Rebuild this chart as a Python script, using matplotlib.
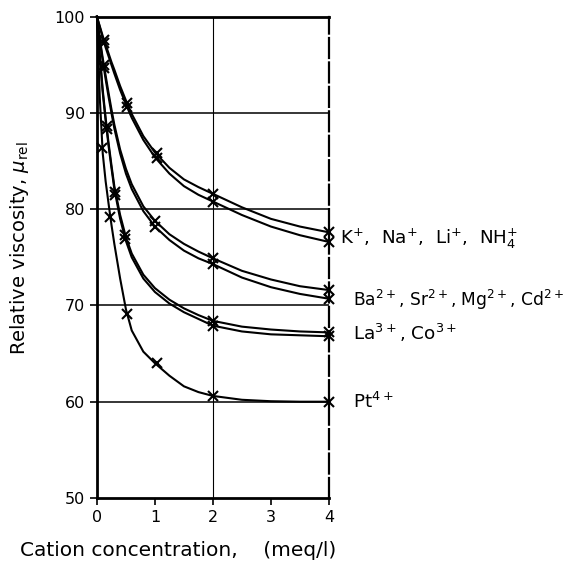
import matplotlib
matplotlib.use('Agg')
import matplotlib.pyplot as plt

# curve readings (x in meq/l, y = relative viscosity)
curve_x = [0, 0.05, 0.1, 0.15, 0.2, 0.25, 0.3, 0.4, 0.5, 0.6, 0.8, 1, 1.25, 1.5, 1.75, 2, 2.5, 3, 3.5, 4]
k_a = [100, 99.0, 98.0, 97.1, 96.2, 95.3, 94.5, 92.8, 91.3, 89.9, 87.6, 85.9, 84.3, 83.1, 82.3, 81.6, 80.2, 79.0, 78.2, 77.6]
k_b = [100, 98.9, 97.8, 96.8, 95.9, 95.0, 94.1, 92.4, 90.9, 89.5, 87.2, 85.4, 83.7, 82.4, 81.5, 80.8, 79.4, 78.2, 77.3, 76.6]
ba_a = [100, 97.7, 95.7, 93.9, 92.1, 90.4, 88.8, 86.2, 84.2, 82.6, 80.3, 78.8, 77.4, 76.4, 75.6, 74.9, 73.6, 72.7, 72.0, 71.6]
ba_b = [100, 97.5, 95.4, 93.5, 91.7, 90.0, 88.4, 85.8, 83.7, 82.1, 79.8, 78.2, 76.8, 75.7, 74.9, 74.3, 72.9, 71.9, 71.2, 70.7]
la_a = [100, 96.0, 92.4, 89.5, 86.9, 84.6, 82.4, 79.4, 77.1, 75.4, 73.2, 71.8, 70.6, 69.7, 69.0, 68.4, 67.8, 67.5, 67.3, 67.2]
la_b = [100, 95.8, 92.1, 89.2, 86.6, 84.3, 82.1, 79.0, 76.7, 75.0, 72.8, 71.4, 70.2, 69.3, 68.6, 67.9, 67.3, 67.0, 66.9, 66.8]
pt = [100, 91.5, 85.8, 82.9, 80.6, 78.4, 76.4, 72.8, 69.6, 67.4, 65.2, 64.0, 62.7, 61.6, 61.0, 60.6, 60.2, 60.05, 60.0, 60.0]

# measured points (crosses)
k_px = [0.12, 0.52, 1.03, 2, 4]
k_a_py = [97.6, 91.0, 85.8, 81.6, 77.6]
k_b_py = [97.3, 90.6, 85.3, 80.8, 76.6]
ba_px = [0.12, 1.0, 2, 4]
ba_a_py = [95.0, 78.8, 74.9, 71.6]
ba_b_py = [94.7, 78.2, 74.3, 70.7]
la_px = [0.17, 0.32, 0.49, 2, 4]
la_a_py = [88.6, 81.8, 77.3, 68.4, 67.2]
la_b_py = [88.3, 81.5, 76.9, 67.9, 66.8]
pt_px = [0.09, 0.23, 0.52, 1.03, 2, 4]
pt_py = [86.4, 79.2, 69.1, 64.0, 60.6, 60.0]

labels = [r'K$^{+}$,  Na$^{+}$,  Li$^{+}$,  NH$_4^{+}$',
          r'Ba$^{2+}$, Sr$^{2+}$, Mg$^{2+}$, Cd$^{2+}$',
          r'La$^{3+}$, Co$^{3+}$',
          r'Pt$^{4+}$']
label_x = [4.2, 4.42, 4.42, 4.42]
label_y = [76.9, 70.6, 67.1, 60.0]

fig = plt.figure(figsize=(5.77, 5.77), dpi=100)
ax = fig.add_axes([0.168, 0.137, 0.402, 0.834])

for yv in [60, 70, 80, 90]:
    ax.axhline(yv, color='black', lw=1.1, zorder=1)
ax.axvline(2, color='black', lw=0.8, zorder=1)

for ys in [k_a, k_b, ba_a, ba_b, la_a, la_b, pt]:
    ax.plot(curve_x, ys, color='black', lw=1.5, zorder=3, clip_on=False)

pts = [(k_px, k_a_py), (k_px, k_b_py), (ba_px, ba_a_py), (ba_px, ba_b_py),
       (la_px, la_a_py), (la_px, la_b_py), (pt_px, pt_py)]
for xs, ys in pts:
    ax.plot(xs, ys, ls='none', marker='x', ms=7, mew=1.5, color='black',
            zorder=4, clip_on=False)

for i, (lab, xv, yv) in enumerate(zip(labels, label_x, label_y)):
    ax.text(xv, yv, lab, fontsize=13.2 if i != 1 else 12.3, va='center', ha='left')

ax.set_xlim(0, 4)
ax.set_ylim(50, 100)
ax.set_xticks([0, 1, 2, 3, 4])
ax.set_yticks([50, 60, 70, 80, 90, 100])
ax.tick_params(direction='out', length=5, width=1.2, labelsize=11.5, color='black')
for s in ['left', 'top', 'bottom']:
    ax.spines[s].set_linewidth(2)
ax.spines['right'].set_linewidth(1.6)
ax.spines['right'].set_linestyle((0, (9, 2)))

ax.set_xlabel('Cation concentration,    (meq/l)', fontsize=14.5)
ax.xaxis.set_label_coords(0.35, -0.09)
ax.set_ylabel(r'Relative viscosity, $\mu_{\rm rel}$', fontsize=14)
ax.yaxis.set_label_coords(-0.285, 0.52)

fig.savefig('out.png', dpi=100)
